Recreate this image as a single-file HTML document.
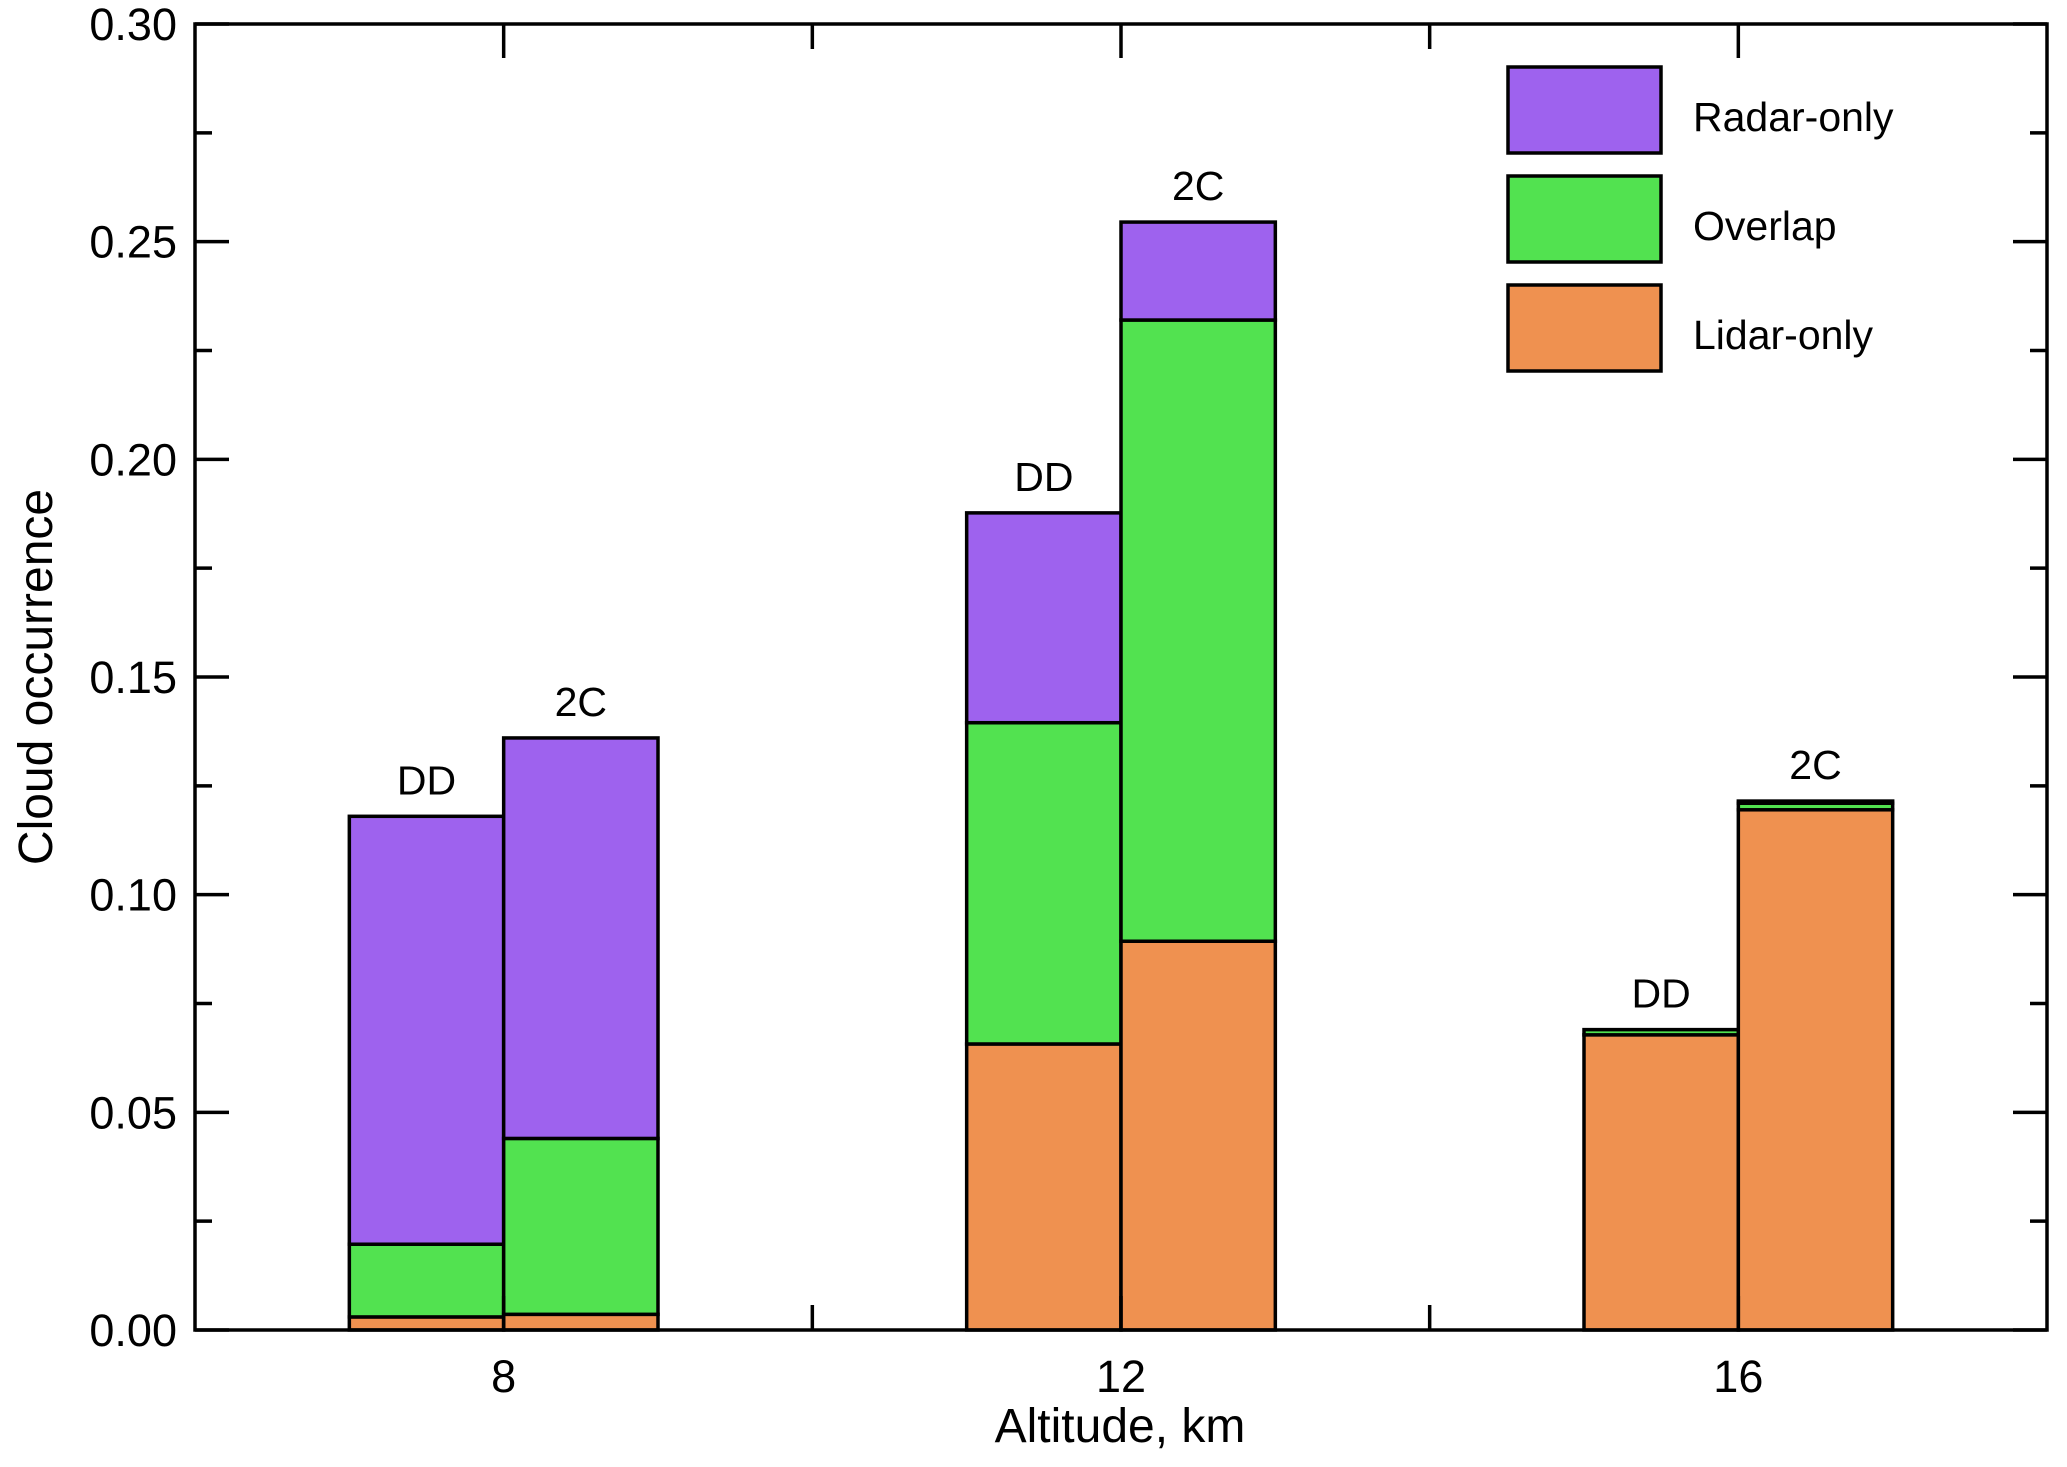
<!DOCTYPE html>
<html><head><meta charset="utf-8">
<style>
html,body{margin:0;padding:0;background:#fff;}
svg{display:block;font-family:"Liberation Sans",Arial,sans-serif;}
</style></head>
<body>
<svg id="chart" width="2067" height="1467" viewBox="0 0 2067 1467" xmlns="http://www.w3.org/2000/svg"></svg>
<script>
const altitudes = [8, 12, 16];
const products = ["DD", "2C"];
const lidarDD = [0.003, 0.0657, 0.0678];
const overlapDD = [0.0167, 0.0738, 0.0012];
const radarDD = [0.0983, 0.0482, 0.0];
const lidar2C = [0.0036, 0.0893, 0.1195];
const overlap2C = [0.0404, 0.1427, 0.0015];
const radar2C = [0.0920, 0.0225, 0.0005];
const yTicks = [0, 0.05, 0.10, 0.15, 0.20, 0.25, 0.30];
const yTickLabels = ["0.00","0.05","0.10","0.15","0.20","0.25","0.30"];
const xTicks = [8, 12, 16];
const xMinorTicks = [10, 14];
const seriesNames = ["Radar-only", "Overlap", "Lidar-only"];

const L=195,R=2047,T=24,B=1330;
const X0=6,X1=18,Y0=0,Y1=0.30;
const sx=v=>L+(v-X0)/(X1-X0)*(R-L);
const sy=v=>B-(v-Y0)/(Y1-Y0)*(B-T);
const svg=document.getElementById('chart');
const NS="http://www.w3.org/2000/svg";
function mk(tag,attrs,parent){const e=document.createElementNS(NS,tag);for(const k in attrs)e.setAttribute(k,attrs[k]);(parent||svg).appendChild(e);return e;}
const colors={"Radar-only":"#9e62ee","Overlap":"#52e250","Lidar-only":"#ef9150"};

const data={DD:[lidarDD,overlapDD,radarDD],"2C":[lidar2C,overlap2C,radar2C]};
const stackNames=["Lidar-only","Overlap","Radar-only"];
altitudes.forEach((a,i)=>{
  products.forEach((p,j)=>{
    const x0=sx(a-1+j), x1=sx(a+j);
    let base=0;
    data[p].forEach((arr,k)=>{
      const v=arr[i];
      const r=mk('rect',{x:x0,y:sy(base+v),width:x1-x0,height:sy(base)-sy(base+v),fill:colors[stackNames[k]],stroke:'#000','stroke-width':3.5});
      
      
      base+=v;
    });
    const t=mk('text',{x:(x0+x1)/2,y:sy(base)-22,'font-size':41,'text-anchor':'middle',fill:'#000'});
    t.textContent=p;
    
    
  });
});

const frame=mk('rect',{x:L,y:T,width:R-L,height:B-T,fill:'none',stroke:'#000','stroke-width':3.5});



yTicks.forEach((v,i)=>{
  const y=sy(v);
  mk('line',{x1:L,x2:L+34,y1:y,y2:y,stroke:'#000','stroke-width':3.5});
  mk('line',{x1:R,x2:R-34,y1:y,y2:y,stroke:'#000','stroke-width':3.5});
  const t=mk('text',{x:L-18,y:y+16,'font-size':45,'text-anchor':'end',fill:'#000'});
  t.textContent=yTickLabels[i];
  
  
  if(i<yTicks.length-1){
    const ym=sy(v+0.025);
    mk('line',{x1:L,x2:L+17,y1:ym,y2:ym,stroke:'#000','stroke-width':3.5});
    mk('line',{x1:R,x2:R-17,y1:ym,y2:ym,stroke:'#000','stroke-width':3.5});
  }
});
xTicks.forEach(v=>{
  const x=sx(v);
  mk('line',{x1:x,x2:x,y1:B,y2:B-34,stroke:'#000','stroke-width':3.5});
  mk('line',{x1:x,x2:x,y1:T,y2:T+34,stroke:'#000','stroke-width':3.5});
  const t=mk('text',{x:x,y:B+62,'font-size':45,'text-anchor':'middle',fill:'#000'});
  t.textContent=String(v);
  
  
});
xMinorTicks.forEach(v=>{
  const x=sx(v);
  mk('line',{x1:x,x2:x,y1:B,y2:B-25,stroke:'#000','stroke-width':3.5});
  mk('line',{x1:x,x2:x,y1:T,y2:T+25,stroke:'#000','stroke-width':3.5});
});

const yt=mk('text',{x:0,y:0,'font-size':48,'text-anchor':'middle',fill:'#000',transform:'translate(52,677) rotate(-90)'});
yt.textContent='Cloud occurrence';


const xt=mk('text',{x:1120,y:1442,'font-size':48,'text-anchor':'middle',fill:'#000'});
xt.textContent='Altitude, km';



const legTops=[67,176,285];
seriesNames.forEach((n,i)=>{
  const y=legTops[i];
  const r=mk('rect',{x:1508,y:y,width:153,height:86,fill:colors[n],stroke:'#000','stroke-width':3.5});
  
  
  const t=mk('text',{x:1693,y:y+64,'font-size':41,fill:'#000'});
  t.textContent=n;
  
  
});
</script>
</body></html>
